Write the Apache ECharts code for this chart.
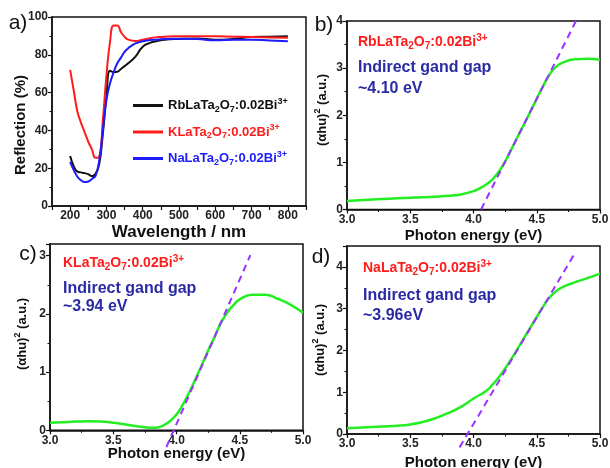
<!DOCTYPE html>
<html><head><meta charset="utf-8">
<script src="https://cdn.jsdelivr.net/npm/echarts@6/dist/echarts.min.js"></script>
<style>html,body{margin:0;padding:0;background:#fff}#c{width:610px;height:468px}</style>
</head><body><div id="c"></div>
<script>
// ---- panel a: reflection spectra ----
const wavelength = [200,210,220,230,240,250,260,270,280,290,300,310,320,330,340,350,360,380,400,420,440,460,500,550,600,650,700,750,800];
const reflRb = [26.4,21,18.2,17.8,17.4,16.8,15.8,17,22,38,58,71.5,70.8,71,72.5,74,75.5,79,84.3,86.3,87.3,88,88.4,88.6,88,88.4,89.4,89.6,89.8];
const reflK  = [72,61,50,44,39,34,30,25.5,26,45,69,87,95.5,95.5,92,89.5,88,87.3,88,88.8,89.3,89.6,89.8,89.8,89.8,89.6,89.4,89.2,89];
const reflNa = [23.4,19,15.5,13.6,12.7,13,14.3,16,24,40,56,65,70.8,75.5,78.5,81.5,83.5,86,87.2,87.8,88,88.4,88.5,88.3,87.7,88,88,87.6,87.2];
const wlTicks = [200,300,400,500,600,700,800];
// ---- panel b: RbLaTa2O7 ----
const energyB = [3.0,3.2,3.4,3.6,3.8,3.9,4.0,4.05,4.1,4.15,4.2,4.25,4.3,4.35,4.4,4.45,4.5,4.55,4.6,4.65,4.7,4.8,4.9,5.0];
const ahvB = [0.18,0.21,0.24,0.26,0.29,0.32,0.39,0.45,0.53,0.64,0.8,1.02,1.28,1.55,1.81,2.08,2.35,2.62,2.86,3.02,3.11,3.19,3.2,3.18];
const fitBx = [4.06, 4.81];
const fitBy = [0, 4];
// ---- panel c: KLaTa2O7 ----
const energyC = [3.0,3.1,3.2,3.3,3.4,3.5,3.6,3.7,3.8,3.85,3.9,3.95,4.0,4.05,4.1,4.15,4.2,4.25,4.3,4.35,4.4,4.45,4.5,4.6,4.7,4.8,4.9,5.0];
const ahvC = [0.13,0.14,0.15,0.155,0.15,0.13,0.1,0.065,0.045,0.05,0.09,0.16,0.27,0.44,0.65,0.88,1.12,1.37,1.6,1.84,2.02,2.15,2.25,2.33,2.33,2.26,2.16,2.02];
const fitCx = [3.92, 4.584];
const fitCy = [-0.29, 3.01];
// ---- panel d: NaLaTa2O7 ----
const energyD = [3.0,3.2,3.4,3.5,3.6,3.7,3.8,3.9,4.0,4.1,4.15,4.2,4.25,4.3,4.35,4.4,4.45,4.5,4.55,4.6,4.65,4.7,4.8,4.9,5.0];
const ahvD = [0.14,0.17,0.2,0.23,0.29,0.38,0.5,0.65,0.85,1.03,1.18,1.36,1.57,1.8,2.05,2.3,2.55,2.8,3.05,3.26,3.41,3.51,3.63,3.73,3.84];
const fitDx = [3.89, 4.80];
const fitDy = [-0.32, 4.32];
// ---- texts ----
const gapLabels = ['~4.10 eV', '~3.94 eV', '~3.96eV'];
const gapTitle = 'Indirect gand gap';
const NAME_RB = 'RbLaTa2O7:0.02Bi3+', NAME_K = 'KLaTa2O7:0.02Bi3+', NAME_NA = 'NaLaTa2O7:0.02Bi3+';

const FONT = 'Liberation Sans, Arial, Helvetica, sans-serif';
const INK = '#111';
const RED = '#ff1c1c', BLUE = '#1c1cff', GREEN = '#22ee22', PURPLE = '#9933ff', NAVY = '#2a2aa6';

function pairs(xs, ys) { return xs.map((x, i) => [x, ys[i]]); }
function richSet(size, colors) {
  const r = {};
  const small = Math.round(size * 0.7);
  for (const key in colors) {
    const c = colors[key];
    r['m' + key] = {fontSize: size, fontWeight: 'bold', fontFamily: FONT, color: c, fill: c};
    r['s' + key] = {fontSize: small, fontWeight: 'bold', fontFamily: FONT, color: c, fill: c, padding: [8, 0, 0, 0]};
    r['p' + key] = {fontSize: small, fontWeight: 'bold', fontFamily: FONT, color: c, fill: c, padding: [0, 0, 8, 0]};
  }
  return r;
}
function formula(prefix, key) {
  return `{m${key}|${prefix}LaTa}{s${key}|2}{m${key}|O}{s${key}|7}{m${key}|:0.02Bi}{p${key}|3+}`;
}
const legendMap = {};
legendMap[NAME_RB] = formula('Rb', 'k');
legendMap[NAME_K] = formula('K', 'r');
legendMap[NAME_NA] = formula('Na', 'b');

function xAx(gi, min, max, interval, name, gap, nameSize, fmt, minor) {
  return {
    type: 'value', gridIndex: gi, min: min, max: max, interval: interval,
    name: name, nameLocation: 'middle', nameGap: gap, nameMoveOverlap: false,
    nameTextStyle: {fontFamily: FONT, fontWeight: 'bold', fontSize: nameSize, color: INK},
    axisLine: {show: true, onZero: false, lineStyle: {color: INK, width: 1.5}},
    axisTick: {show: true, inside: false, length: 4, lineStyle: {color: INK, width: 1.2}},
    minorTick: {show: minor, splitNumber: 2, length: 2.5, lineStyle: {color: INK, width: 1}},
    splitLine: {show: false}, minorSplitLine: {show: false},
    axisLabel: {margin: 4, fontFamily: FONT, fontWeight: 'bold', fontSize: 12, color: '#222', formatter: fmt, showMinLabel: true, showMaxLabel: true, hideOverlap: false}
  };
}
function yAx(gi, min, max, interval, fmt) {
  return {
    type: 'value', gridIndex: gi, min: min, max: max, interval: interval,
    axisLine: {show: true, onZero: false, lineStyle: {color: INK, width: 1.5}},
    axisTick: {show: true, inside: false, length: 4, lineStyle: {color: INK, width: 1.2}},
    minorTick: {show: true, splitNumber: 2, length: 2.5, lineStyle: {color: INK, width: 1}},
    splitLine: {show: false}, minorSplitLine: {show: false},
    axisLabel: {margin: 4, fontFamily: FONT, fontWeight: 'bold', fontSize: 12, color: '#222', formatter: fmt, showMinLabel: true, showMaxLabel: true, hideOverlap: false}
  };
}
const intFmt = v => (Math.abs(v - Math.round(v)) < 1e-6 ? String(Math.round(v)) : '');
const eFmt = v => v.toFixed(1);
const wlFmt = v => (wlTicks.indexOf(v) >= 0 ? String(v) : '');

function gridBox(left, top, width, height) {
  return {left: left, top: top, width: width, height: height, show: true, borderColor: INK, borderWidth: 1.5, backgroundColor: 'transparent', containLabel: false, outerBoundsMode: 'none'};
}

function lineSeries(name, xi, data, color, width) {
  return {type: 'line', name: name, xAxisIndex: xi, yAxisIndex: xi, data: data, smooth: true, showSymbol: false, symbol: 'none',
    lineStyle: {color: color, width: width}, itemStyle: {color: color}, emphasis: {disabled: true}, z: 3};
}
function fitSeries(xi, xs, ys) {
  return {type: 'line', xAxisIndex: xi, yAxisIndex: xi, data: pairs(xs, ys), smooth: false, showSymbol: false, symbol: 'none', clip: false,
    lineStyle: {color: PURPLE, width: 2, type: [7, 5]}, emphasis: {disabled: true}, z: 4};
}

function txt(x, y, text, size, color, rich, align) {
  return {type: 'text', x: x, y: y, z: 10, style: {text: text, fill: color, fontFamily: FONT, fontWeight: 'bold', fontSize: size,
    rich: rich, align: align || 'left', verticalAlign: 'middle', textAlign: align || 'left', textVerticalAlign: 'middle'}};
}
function ytitle(x, y, text, size, rich) {
  return {type: 'text', x: x, y: y, rotation: Math.PI / 2, z: 10, style: {text: text, fill: INK, fontFamily: FONT, fontWeight: 'bold', fontSize: size,
    rich: rich, align: 'center', verticalAlign: 'middle', textAlign: 'center', textVerticalAlign: 'middle'}};
}
function plabel(x, y, text) {
  return {type: 'text', x: x, y: y, z: 10, style: {text: text, fill: INK, fontFamily: FONT, fontWeight: 'normal', fontSize: 21,
    align: 'center', verticalAlign: 'middle', textAlign: 'center', textVerticalAlign: 'middle'}};
}
const supRich = {p: {fontSize: 9, fontWeight: 'bold', fontFamily: FONT, fill: INK, color: INK, padding: [0, 0, 8, 0]}};
const ahuTitle = '(αhu){p|2} (a.u.)';
const annRich = richSet(14, {r: RED});

const chart = echarts.init(document.getElementById('c'), null, {renderer: 'canvas'});
chart.setOption({
  animation: false,
  backgroundColor: '#ffffff',
  grid: [gridBox(52, 17, 254, 189), gridBox(347, 21, 253, 188.5), gridBox(50, 244, 253, 186.3), gridBox(347, 246, 253, 188)],
  xAxis: [
    xAx(0, 150, 850, 50, 'Wavelength / nm', 18, 17, wlFmt, false),
    xAx(1, 3, 5, 0.5, 'Photon energy (eV)', 19, 15, eFmt, true),
    xAx(2, 3, 5, 0.5, 'Photon energy (eV)', 16, 15, eFmt, true),
    xAx(3, 3, 5, 0.5, 'Photon energy (eV)', 21, 15, eFmt, true)
  ],
  yAxis: [
    yAx(0, 0, 100, 20, v => String(v)),
    yAx(1, 0, 4, 1, intFmt),
    yAx(2, 0, 3.2, 1, intFmt),
    yAx(3, 0, 4.5, 1, intFmt)
  ],
  legend: {
    data: [{name: NAME_RB}, {name: NAME_K}, {name: NAME_NA}],
    orient: 'vertical', left: 133, top: 97, padding: 0, itemWidth: 30, itemHeight: 3, itemGap: 9.5, icon: 'rect',
    selectedMode: false,
    formatter: name => legendMap[name],
    textStyle: {fontFamily: FONT, fontWeight: 'bold', fontSize: 13, color: INK, padding: [0, 0, 0, 0],
      rich: richSet(13, {k: INK, r: RED, b: BLUE})}
  },
  series: [
    lineSeries(NAME_RB, 0, pairs(wavelength, reflRb), INK, 2),
    lineSeries(NAME_K, 0, pairs(wavelength, reflK), RED, 2),
    lineSeries(NAME_NA, 0, pairs(wavelength, reflNa), BLUE, 2),
    lineSeries('b', 1, pairs(energyB, ahvB), GREEN, 2.5),
    fitSeries(1, fitBx, fitBy),
    lineSeries('c', 2, pairs(energyC, ahvC), GREEN, 2.5),
    fitSeries(2, fitCx, fitCy),
    lineSeries('d', 3, pairs(energyD, ahvD), GREEN, 2.5),
    fitSeries(3, fitDx, fitDy)
  ],
  graphic: {elements: [
    plabel(18, 23, 'a)'), plabel(324, 25, 'b)'), plabel(28, 254, 'c)'), plabel(321, 257, 'd)'),
    ytitle(21, 125, 'Reflection (%)', 15, null),
    ytitle(322, 110, ahuTitle, 13, supRich),
    ytitle(22, 334, ahuTitle, 13, supRich),
    ytitle(320, 340, ahuTitle, 13, supRich),
    txt(358, 42, formula('Rb', 'r'), 14, RED, annRich),
    txt(358, 68, gapTitle, 16, NAVY, null),
    txt(358, 88.5, gapLabels[0], 16, NAVY, null),
    txt(63, 263, formula('K', 'r'), 14, RED, annRich),
    txt(63, 289, gapTitle, 16, NAVY, null),
    txt(63, 307, gapLabels[1], 16, NAVY, null),
    txt(363, 268, formula('Na', 'r'), 14, RED, annRich),
    txt(363, 296, gapTitle, 16, NAVY, null),
    txt(363, 315.5, gapLabels[2], 16, NAVY, null)
  ]}
});
</script></body></html>
